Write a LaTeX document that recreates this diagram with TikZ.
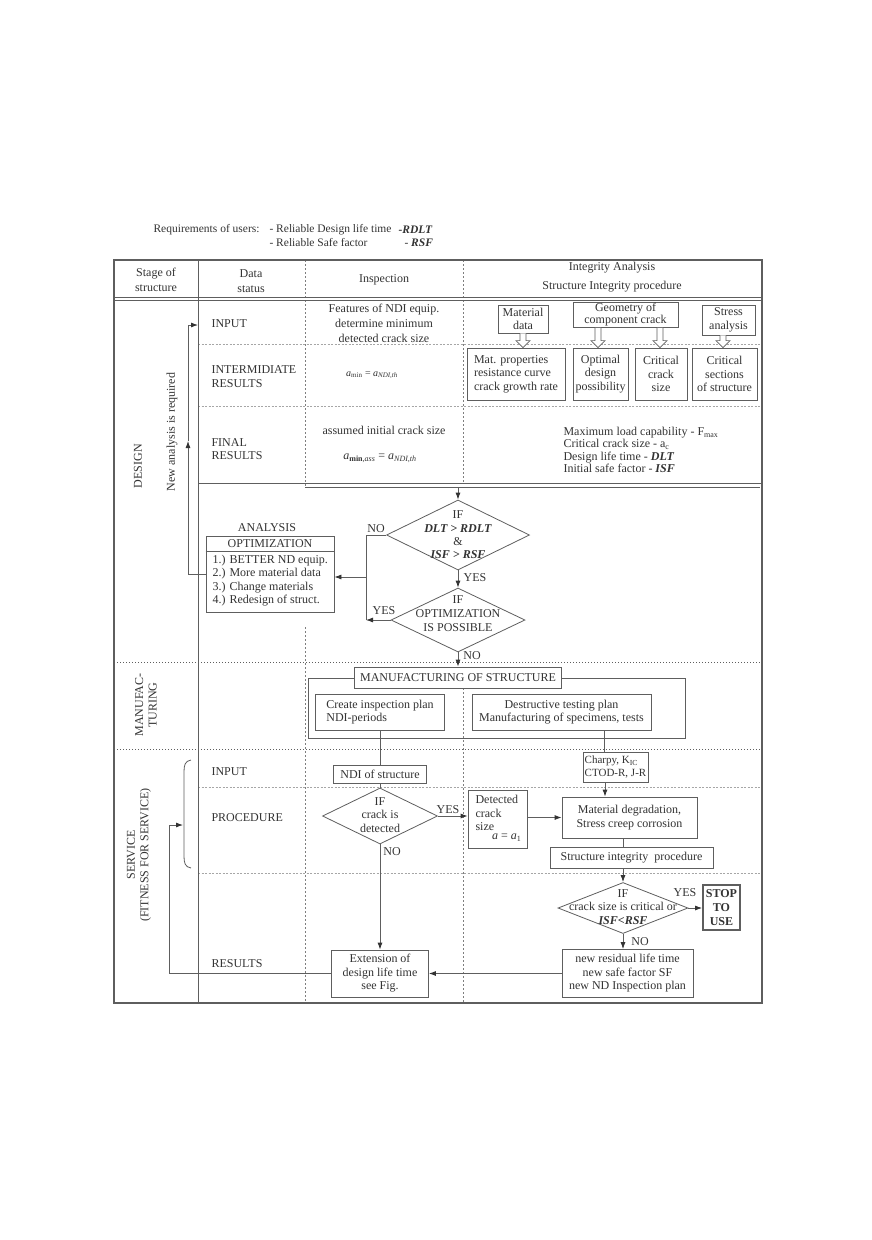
\documentclass[tikz,border=0pt]{standalone}
\usepackage{fontspec}
\setmainfont{Liberation Serif}
\usetikzlibrary{arrows.meta,shapes.geometric,calc}
\definecolor{ln}{HTML}{5E5E5E}
\definecolor{tx}{HTML}{333333}
\newcommand\hollowarr[2]{\filldraw[draw=ln,fill=white,line width=0.7pt] ($(#1)+(-3,0)$) -- ($(#2)+(-3,-7)$) -- ($(#2)+(-7,-7)$) -- (#2) -- ($(#2)+(7,-7)$) -- ($(#2)+(3,-7)$) -- ($(#1)+(3,0)$);}
\newcommand\bi[1]{\textbf{\textit{#1}}}
\begin{document}
\begin{tikzpicture}[x=1pt,y=-1pt,
  every node/.style={text=tx,font=\fontsize{12}{13.5}\selectfont},
  box/.style={draw=ln,line width=0.8pt,fill=white,inner sep=0pt,align=center},
  dia/.style={draw=ln,line width=0.8pt,diamond,inner sep=0pt,fill=white},
  lbl/.style={anchor=west,align=left},
  ct/.style={align=center},
  lin/.style={draw=ln,line width=0.8pt},
  arr/.style={draw=ln,line width=0.8pt,-{Latex[length=7pt,width=5pt,color=tx]}},
  dsh/.style={draw=ln!80,line width=0.7pt,dash pattern=on 2pt off 2pt},
  rowsep/.style={draw=ln!55,line width=0.7pt,dash pattern=on 2pt off 1.5pt},
  secsep/.style={draw=ln,line width=0.9pt,dash pattern=on 1pt off 2pt},
  small/.style={font=\fontsize{10}{12}\selectfont},
  req/.style={anchor=west,font=\fontsize{11.5}{13}\selectfont}
]
\useasboundingbox (0,0) rectangle (872,1240);

% requirements
\node[req] (rq0) at (150,230) {Requirements of users:};
\node[req] (rq1) at (266,230) {- Reliable Design life time};
\node[req] (rq2) at (395,230) {\bi{-RDLT}};
\node[req] (rq3) at (266,243) {- Reliable Safe factor};
\node[req] (rq4) at (401,243) {- \bi{RSF}};

% grid
\draw[dsh] (305,260) -- (305,487);
\draw[dsh] (305,627) -- (305,1003);
\draw[dsh] (463,260) -- (463,483);
\draw[dsh] (463,688) -- (463,1003);
\draw[rowsep] (198,344) -- (762,344);
\draw[rowsep] (198,406) -- (762,406);
\draw[rowsep] (198,787) -- (762,787);
\draw[rowsep] (198,873) -- (762,873);
\draw[secsep] (114,662) -- (762,662);
\draw[secsep] (114,749) -- (762,749);
\draw[lin] (114,297.5) -- (762,297.5);
\draw[lin] (114,300.5) -- (762,300.5);
\draw[lin] (198,260) -- (198,1003);
\draw[lin] (198,483) -- (762,483);
\draw[lin] (305,487.5) -- (760,487.5);
\draw[draw=ln,line width=1.2pt] (114,260) rectangle (762,1003);

% header
\node[ct] (h1) at (156,279.5) {Stage of\\[1.5pt]structure};
\node[ct] (h2) at (251,281) {Data\\[1pt]status};
\node[ct] (h3) at (384,280) {Inspection};
\node[ct] (h4) at (612,268) {Integrity Analysis};
\node[ct] (h5) at (612,287) {Structure Integrity procedure};

% left column labels
\node[rotate=90] (sDes) at (138,466) {DESIGN};
\node[rotate=90] (sNew) at (172,432) {New analysis is required};
\node[rotate=90,ct] (sMan) at (146,705) {MANUFAC-\\TURING};
\node[rotate=90,ct] (sSer) at (139,855) {SERVICE\\(FITNESS FOR SERVICE)};

% data status labels
\node[lbl] (dIn) at (208,324) {INPUT};
\node[lbl] (dInt) at (208,376.5) {INTERMIDIATE\\RESULTS};
\node[lbl] (dFin) at (208,449) {FINAL\\RESULTS};
\node[lbl] (sIn) at (208,772) {INPUT};
\node[lbl] (sPr) at (208,818) {PROCEDURE};
\node[lbl] (sRe) at (208,964) {RESULTS};

% inspection column (design)
\node[ct] (iFeat) at (384,323) {Features of NDI equip.\\[1.5pt]determine minimum\\[1.5pt]detected crack size};
\node[small] (iAmin) at (372,375) {\textit{a}\textsubscript{min} = \textit{a}\textsubscript{\textit{NDI,th}}};
\node[ct] (iAss) at (384,430) {assumed initial crack size};
\node (iAmin2) at (380,458) {\textit{a}\textsubscript{\textbf{min},\textit{ass}} = \textit{a}\textsubscript{\textit{NDI,th}}};

% integrity boxes
\node[box,minimum width=50pt,minimum height=28pt] (matd) at (523,319) {Material\\data};
\node[box,minimum width=105pt,minimum height=25pt,font=\fontsize{12}{12}\selectfont] (geo) at (625.5,315) {Geometry of\\component crack};
\node[box,minimum width=53pt,minimum height=30pt] (stra) at (728.5,320) {Stress\\analysis};
\node[box,minimum width=98pt,minimum height=52pt,align=left] (matp) at (516,374) {Mat. properties\\resistance curve\\crack growth rate};
\node[box,minimum width=55pt,minimum height=52pt] (optd) at (600.5,374) {Optimal\\design\\possibility};
\node[box,minimum width=52pt,minimum height=52pt] (crcs) at (661,374) {Critical\\crack\\size};
\node[box,minimum width=65pt,minimum height=52pt] (crsec) at (724.5,374) {Critical\\sections\\of structure};
\coordinate (ha1) at (matd.south);
\coordinate (hb1) at (matd.south |- matp.north);
\coordinate (ha2) at ([xshift=-27.5pt]geo.south);
\coordinate (hb2) at (ha2 |- optd.north);
\coordinate (ha3) at ([xshift=34.5pt]geo.south);
\coordinate (hb3) at (ha3 |- crcs.north);
\coordinate (ha4) at ([xshift=-5.5pt]stra.south);
\coordinate (hb4) at (ha4 |- crsec.north);
\hollowarr{ha1}{hb1}
\hollowarr{ha2}{hb2}
\hollowarr{ha3}{hb3}
\hollowarr{ha4}{hb4}

\node[anchor=west,align=left,font=\fontsize{12}{12.5}\selectfont] (fin) at (560,450) {Maximum load capability - F\textsubscript{max}\\Critical crack size - a\textsubscript{c}\\Design life time - \bi{DLT}\\Initial safe factor - \bi{ISF}};

% decisions (design)
\coordinate (top1) at (458,487.5);
\node[dia,minimum width=143pt,minimum height=70pt] (d1) at (458,535) {};
\node[ct,font=\fontsize{12}{13.3}\selectfont] (d1t) at (d1) {IF\\\bi{DLT > RDLT}\\\&\\\bi{ISF > RSF}};
\node[dia,minimum width=134pt,minimum height=64pt] (d2) at (458,620) {};
\node[ct,font=\fontsize{12}{14}\selectfont] (d2t) at (458,614) {IF\\OPTIMIZATION\\IS POSSIBLE};
\draw[arr] (top1) -- (d1.north);
\draw[arr] (d1.south) -- (d2.north);
\node (yes1) at (475,578) {YES};
\node (no1) at (376,529) {NO};
\node (yes2) at (384,611) {YES};
\node (no2) at (472,656) {NO};

% optimization box
\node (anal) at (267,528) {ANALYSIS};
\node[box,minimum width=128pt,minimum height=76pt] (opt) at (270,574) {};
\node (opth) at (270,543.5) {OPTIMIZATION};
\draw[lin] (opt.west |- 0,551) -- (opt.east |- 0,551);
\node[anchor=north west,align=left] (optl) at (209,551.5) {1.) BETTER ND equip.\\2.) More material data\\3.) Change materials\\4.) Redesign of struct.};
\coordinate (j1) at (366,535);
\coordinate (j2) at (366,620);
\coordinate (j3) at (366,577);
\draw[lin] (d1.west) -- (j1) -- (j2);
\draw[arr] (d2.west) -- (j2);
\draw[arr] (j3) -- (j3 -| opt.east);
\coordinate (na1) at (188,574);
\coordinate (na2) at (188,441);
\coordinate (na3) at (188,325);
\coordinate (inpt) at (198,325);
\draw[lin] (opt.west |- na1) -- (na1);
\draw[arr] (na1) -- (na2);
\draw[arr] (na2) -- (na3) -- (inpt);

% manufacturing
\node[box,fill=none,minimum width=377pt,minimum height=60pt] (mout) at (496.5,708) {};
\node[box,minimum width=207pt,minimum height=21pt] (mfg) at (458,677.5) {MANUFACTURING OF STRUCTURE};
\draw[arr] (d2.south) -- (mfg.north);
\node[box,minimum width=129pt,minimum height=36pt,align=left] (cip) at (380,712) {Create inspection plan\\NDI-periods};
\node[box,minimum width=179pt,minimum height=36pt] (dtp) at (561.5,712) {Destructive testing plan\\Manufacturing of specimens, tests};

% service
\node[box,minimum width=93pt,minimum height=18pt] (ndi) at (380,774) {NDI of structure};
\draw[lin] (cip.south) -- (ndi.north);
\node[box,minimum width=65pt,minimum height=30pt,align=left,font=\fontsize{11}{13}\selectfont] (chp) at (615.5,767) {Charpy, K\textsubscript{IC}\\CTOD-R, J-R};
\draw[lin] ([xshift=42.5pt]dtp.south) -- ([xshift=42.5pt]dtp.south |- chp.north);
\node[dia,minimum width=115pt,minimum height=56pt] (d3) at (380,816) {};
\node[ct,font=\fontsize{12}{13.5}\selectfont] (d3t) at (380,815) {IF\\crack is\\detected};
\draw[lin] (ndi.south) -- (d3.north);
\node (yes3) at (448,810) {YES};
\node (no3) at (392,852) {NO};
\node[box,minimum width=59pt,minimum height=58pt] (det) at (497.5,819) {};
\node[anchor=north west,align=left] (dett) at (472,792) {Detected\\crack\\size};
\node[anchor=east] (deta) at (525,838) {\textit{a} = \textit{a}\textsubscript{1}};
\draw[arr] (d3.east) -- (d3.east -| det.west);
\node[box,minimum width=135pt,minimum height=41pt] (mdeg) at (629.5,817.5) {Material degradation,\\Stress creep corrosion};
\draw[arr] ([xshift=-10.5pt]chp.south) -- ([xshift=-10.5pt]chp.south |- mdeg.north);
\draw[arr] (det.east |- mdeg.west) -- (mdeg.west);
\node[box,minimum width=163pt,minimum height=21pt] (sip) at (631.5,857.5) {Structure integrity\ \ procedure};
\draw[lin] ([xshift=-6.5pt]mdeg.south) -- ([xshift=-6.5pt]mdeg.south |- sip.north);
\node[dia,minimum width=130pt,minimum height=51pt] (d4) at (623,908) {};
\node[ct,font=\fontsize{12}{13.5}\selectfont] (d4t) at (623,907) {IF\\crack size is critical or\\\bi{ISF<RSF}};
\draw[arr] (d4.north |- sip.south) -- (d4.north);
\node[box,line width=1.8pt,minimum width=37pt,minimum height=45pt,font=\bfseries\fontsize{12}{14}\selectfont] (stop) at (721.5,907.5) {STOP\\TO\\USE};
\draw[arr] (d4.east) -- (d4.east -| stop.west);
\node (yes4) at (685,893) {YES};
\node (no4) at (640,942) {NO};
\node[box,minimum width=131pt,minimum height=48pt] (nres) at (627.5,973.5) {new residual life time\\new safe factor SF\\new ND Inspection plan};
\draw[arr] (d4.south) -- (d4.south |- nres.north);
\node[box,minimum width=97pt,minimum height=47pt] (ext) at (380,973.5) {Extension of\\design life time\\see Fig.};
\draw[arr] (d3.south) -- (ext.north);
\draw[arr] (nres.west) -- (ext.east);

% brace and loop
\draw[lin] (191,760) .. controls (185,761) and (184,765) .. (184,772) -- (184,856) .. controls (184,863) and (185,867) .. (191,868);
\coordinate (brc) at (183,825);
\coordinate (sl1) at (169,973.5);
\coordinate (sl2) at (169,825);
\draw[arr] (ext.west) -- (sl1) -- (sl2) -- (brc);
\end{tikzpicture}
\end{document}
